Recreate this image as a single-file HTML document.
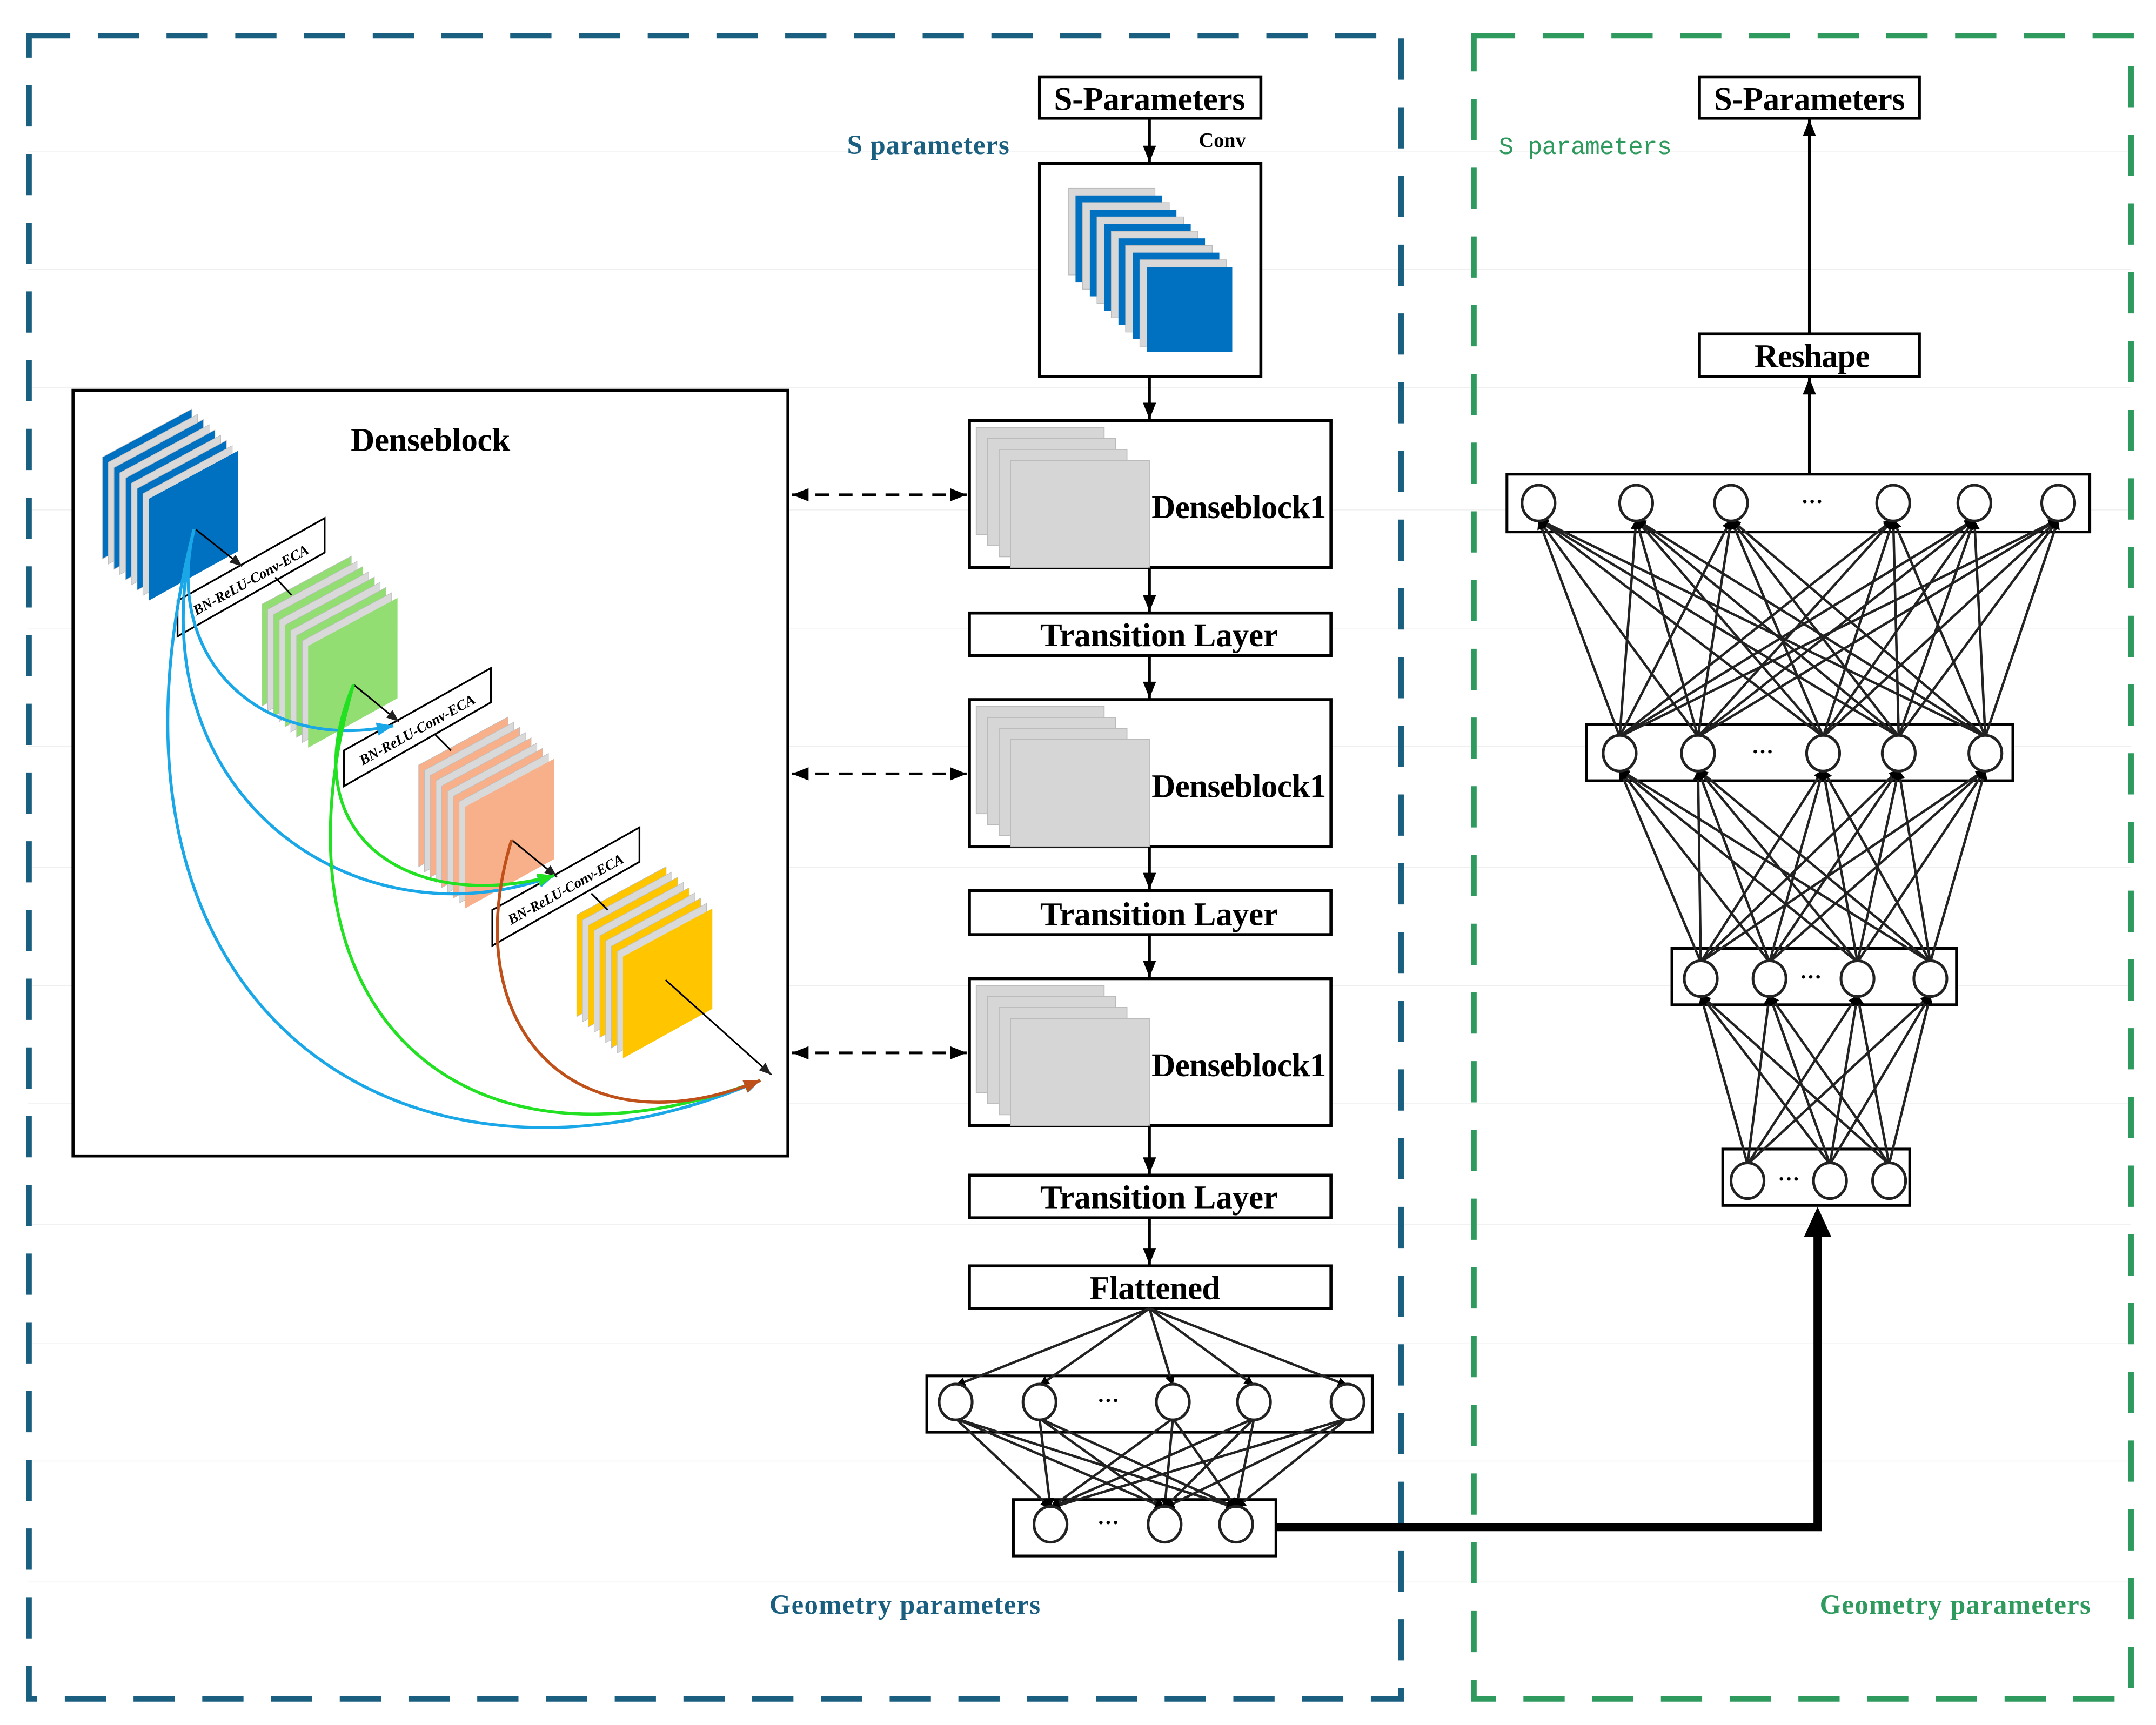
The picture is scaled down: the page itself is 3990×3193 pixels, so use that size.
<!DOCTYPE html>
<html><head><meta charset="utf-8"><style>
html,body{margin:0;padding:0;background:#fff}
svg{display:block}
text{font-family:"Liberation Serif",serif;font-weight:bold}
</style></head><body>
<svg id="s" width="3990" height="3193" viewBox="0 0 1568 1255" xmlns="http://www.w3.org/2000/svg">
<defs>
<marker id="ah" viewBox="0 0 10 10" refX="10" refY="5" markerWidth="7" markerHeight="7" orient="auto-start-reverse" markerUnits="userSpaceOnUse"><path d="M0,0 L10,5 L0,10 z" fill="#000"/></marker>
<marker id="ahs" viewBox="0 0 10 10" refX="10" refY="5" markerWidth="9" markerHeight="9" orient="auto" markerUnits="userSpaceOnUse"><path d="M0,1 L10,5 L0,9 z" fill="#222"/></marker>
<marker id="ab" viewBox="0 0 10 10" refX="10" refY="5" markerWidth="14" markerHeight="12" orient="auto-start-reverse" markerUnits="userSpaceOnUse"><path d="M0,1 L10,5 L0,9 z" fill="#000"/></marker>
<marker id="mb" viewBox="0 0 10 10" refX="10" refY="5" markerWidth="14" markerHeight="12" orient="auto" markerUnits="userSpaceOnUse"><path d="M0,1 L10,5 L0,9 z" fill="#1aa7e8"/></marker>
<marker id="mg" viewBox="0 0 10 10" refX="10" refY="5" markerWidth="14" markerHeight="12" orient="auto" markerUnits="userSpaceOnUse"><path d="M0,1 L10,5 L0,9 z" fill="#22e022"/></marker>
<marker id="mo" viewBox="0 0 10 10" refX="10" refY="5" markerWidth="14" markerHeight="12" orient="auto" markerUnits="userSpaceOnUse"><path d="M0,1 L10,5 L0,9 z" fill="#c0501a"/></marker>
</defs>
<g stroke="#efefef" stroke-width="0.6">
<line x1="20" y1="110" x2="1550" y2="110"/><line x1="20" y1="196" x2="1550" y2="196"/><line x1="20" y1="282" x2="1550" y2="282"/><line x1="20" y1="371" x2="1550" y2="371"/><line x1="20" y1="457" x2="1550" y2="457"/><line x1="20" y1="543" x2="1550" y2="543"/><line x1="20" y1="631" x2="1550" y2="631"/><line x1="20" y1="717" x2="1550" y2="717"/><line x1="20" y1="803" x2="1550" y2="803"/><line x1="20" y1="891" x2="1550" y2="891"/><line x1="20" y1="977" x2="1550" y2="977"/><line x1="20" y1="1063" x2="1550" y2="1063"/><line x1="20" y1="1151" x2="1550" y2="1151"/>
</g>
<rect x="21" y="26" width="998" height="1210" fill="none" stroke="#1a5f80" stroke-width="4" stroke-dasharray="30 20"/>
<rect x="1072" y="26" width="478" height="1210" fill="none" stroke="#2e9a5e" stroke-width="4" stroke-dasharray="30 20"/>
<text x="675" y="112" font-size="20" fill="#1a5f80" text-anchor="middle" textLength="118">S parameters</text>
<text x="658" y="1174" font-size="20" fill="#1a5f80" text-anchor="middle" textLength="197">Geometry parameters</text>
<text x="1153" y="112" font-size="18" fill="#2e9a5e" text-anchor="middle" style="font-family:'Liberation Mono',monospace;font-weight:normal" textLength="126">S parameters</text>
<text x="1422" y="1174" font-size="20" fill="#2e9a5e" text-anchor="middle" textLength="197">Geometry parameters</text>

<g fill="#fff" stroke="#000" stroke-width="2.2">
<rect x="756" y="56" width="161" height="30"/>
<rect x="756" y="119" width="161" height="155"/>
<rect x="705" y="306" width="263" height="107"/>
<rect x="705" y="446" width="263" height="31"/>
<rect x="705" y="509" width="263" height="107"/>
<rect x="705" y="648" width="263" height="32"/>
<rect x="705" y="712" width="263" height="107"/>
<rect x="705" y="855" width="263" height="31"/>
<rect x="705" y="921" width="263" height="31"/>
<rect x="1236" y="56" width="160" height="30"/>
<rect x="1236" y="243" width="160" height="31"/>
<rect x="53" y="284" width="520" height="557"/>
</g>
<g font-size="24" text-anchor="middle">
<text x="836" y="80" textLength="139">S-Parameters</text>
<text x="1316" y="80" textLength="139">S-Parameters</text>
<text x="1318" y="267" textLength="84">Reshape</text>
<text x="843" y="470" textLength="173">Transition Layer</text>
<text x="843" y="673" textLength="173">Transition Layer</text>
<text x="843" y="879" textLength="173">Transition Layer</text>
<text x="840" y="945" textLength="95">Flattened</text>
<text x="313" y="328" textLength="116">Denseblock</text>
<text x="901" y="377" textLength="127">Denseblock1</text>
<text x="901" y="580" textLength="127">Denseblock1</text>
<text x="901" y="783" textLength="127">Denseblock1</text>
</g>
<text x="889" y="107" font-size="15" text-anchor="middle">Conv</text>
<g id="dyn"></g>
<g stroke="#000" stroke-width="2">
<line x1="836" y1="86" x2="836" y2="118" marker-end="url(#ab)"/>
<line x1="836" y1="274" x2="836" y2="305" marker-end="url(#ab)"/>
<line x1="836" y1="413" x2="836" y2="445" marker-end="url(#ab)"/>
<line x1="836" y1="477" x2="836" y2="508" marker-end="url(#ab)"/>
<line x1="836" y1="616" x2="836" y2="647" marker-end="url(#ab)"/>
<line x1="836" y1="680" x2="836" y2="711" marker-end="url(#ab)"/>
<line x1="836" y1="819" x2="836" y2="854" marker-end="url(#ab)"/>
<line x1="836" y1="886" x2="836" y2="920" marker-end="url(#ab)"/>
<line x1="1316" y1="243" x2="1316" y2="87" marker-end="url(#ab)"/>
<line x1="1316" y1="345" x2="1316" y2="275" marker-end="url(#ab)"/>
<line x1="576" y1="360" x2="703" y2="360" stroke-dasharray="10 7" marker-start="url(#ab)" marker-end="url(#ab)"/>
<line x1="576" y1="563" x2="703" y2="563" stroke-dasharray="10 7" marker-start="url(#ab)" marker-end="url(#ab)"/>
<line x1="576" y1="766" x2="703" y2="766" stroke-dasharray="10 7" marker-start="url(#ab)" marker-end="url(#ab)"/>
</g>
<polyline points="928,1111 1322,1111 1322,900" fill="none" stroke="#000" stroke-width="6"/>
<path d="M1312,900 L1322,878 L1332,900 z" fill="#000"/>
</svg>
<script>
const NS="http://www.w3.org/2000/svg",dyn=document.getElementById('dyn');
function el(t,a,p){const e=document.createElementNS(NS,t);for(const k in a)e.setAttribute(k,a[k]);(p||dyn).appendChild(e);return e}
const cols=['#d8d8d8','#0070c0'];
for(let i=0;i<12;i++){const x=777+i*5.2,y=137+i*5.2;el('rect',{x,y,width:i==11?62:63,height:i==11?62:63,fill:cols[i%2],stroke:i%2?'none':'#bbb','stroke-width':0.5})}
[306,509,712].forEach(t=>{for(let i=0;i<4;i++){el('rect',{x:710+i*8.3,y:t+5+i*8,width:93+(i==3?8:0),height:78,fill:'#d6d6d6',stroke:'#bbb','stroke-width':0.7})}});
function stack(fx,fy,color){
 const n=9;for(let i=n-1;i>=0;i--){const dx=-i*4.2,dy=-i*3.8;const x=fx+dx,y=fy+dy;
  const c=(i==0)?color:(i%2?'#d9d9d9':color);
  el('path',{d:`M${x},${y} L${x+65},${y-35} L${x+65},${y+38} L${x},${y+74} z`,fill:c,stroke:i==0?'none':'#bdbdbd','stroke-width':0.4});}
}
stack(108,363,'#0070c0');stack(224,470,'#92de72');stack(338,587,'#f8b08a');stack(453,696,'#ffc600');
[[129,437],[250,546],[358,662]].forEach(([x,y])=>{
 el('path',{d:`M${x},${y} L${x+107},${y-60} L${x+107},${y-35} L${x},${y+26} z`,fill:'#fff',stroke:'#000','stroke-width':1.3});
 const t=el('text',{x:x+55,y:y-12,'font-size':10.5,'font-style':'italic','text-anchor':'middle',transform:`rotate(-29 ${x+55} ${y-12})`});t.textContent='BN-ReLU-Conv-ECA';
});
[[142,385,176,412],[257,498,290,525],[372,611,405,638],[484,713,561,782]].forEach(a=>el('line',{x1:a[0],y1:a[1],x2:a[2],y2:a[3],stroke:'#000','stroke-width':1.2,'marker-end':'url(#ahs)'}));
[[200,420,212,433],[316,534,328,546],[430,650,442,662]].forEach(a=>el('line',{x1:a[0],y1:a[1],x2:a[2],y2:a[3],stroke:'#000','stroke-width':1.2}));
[['M141,385 C118,480 190,548 286,528','#1aa7e8','mb'],['M141,385 C95,580 260,690 403,637','#1aa7e8','mb'],['M141,385 C50,740 300,895 553,786','#1aa7e8','mb'],
 ['M257,498 C210,610 300,665 403,637','#22e022','mg'],['M257,498 C190,730 330,870 553,786','#22e022','mg'],['M372,611 C330,750 420,840 553,786','#c0501a','mo']
].forEach(([d,c,m])=>el('path',{d,fill:'none',stroke:c,'stroke-width':2.2,'marker-end':`url(#${m})`}));
function layer(box,xs,y,dots){el('rect',{x:box[0],y:box[1],width:box[2]-box[0],height:box[3]-box[1],fill:'#fff',stroke:'#000','stroke-width':2});
 const t=el('text',{x:dots,y:y+4,'font-size':16,'text-anchor':'middle'});t.textContent='···';return xs.map(x=>[x,y]);}
function conns(from,to,dir){
 from.forEach(a=>to.forEach(b=>{let x1=a[0],y1,x2=b[0],y2;
  if(dir=='down'){y1=a[1]+12;y2=b[1]-12;}else{y1=a[1]-12;y2=b[1]+12;}
  el('line',{x1,y1,x2,y2,stroke:'#222','stroke-width':1.8,'marker-end':'url(#ah)'});}));}
function circles(arr){arr.forEach(([x,y])=>el('ellipse',{cx:x,cy:y,rx:12,ry:13,fill:'#fff',stroke:'#222','stroke-width':2}));}
const L1=layer([674,1001,998,1042],[695,756,853,912,980],1020,806);
const L2=layer([737,1091,928,1132],[764,847,899],1109,806);
L1.forEach(b=>el('line',{x1:836,y1:952,x2:b[0],y2:b[1]-12,stroke:'#222','stroke-width':1.8,'marker-end':'url(#ah)'}));
conns(L1,L2,'down');
const A=layer([1096,345,1520,387],[1119,1190,1259,1377,1436,1497],366,1318);
const B=layer([1154,527,1464,568],[1178,1235,1326,1381,1444],548,1282);
const C=layer([1216,690,1423,731],[1237,1287,1351,1404],712,1317);
const D=layer([1253,836,1389,877],[1271,1331,1374],859,1301);
conns(B,A,'up');conns(C,B,'up');conns(D,C,'up');
circles(L1);circles(L2);circles(A);circles(B);circles(C);circles(D);
</script>
</body></html>
